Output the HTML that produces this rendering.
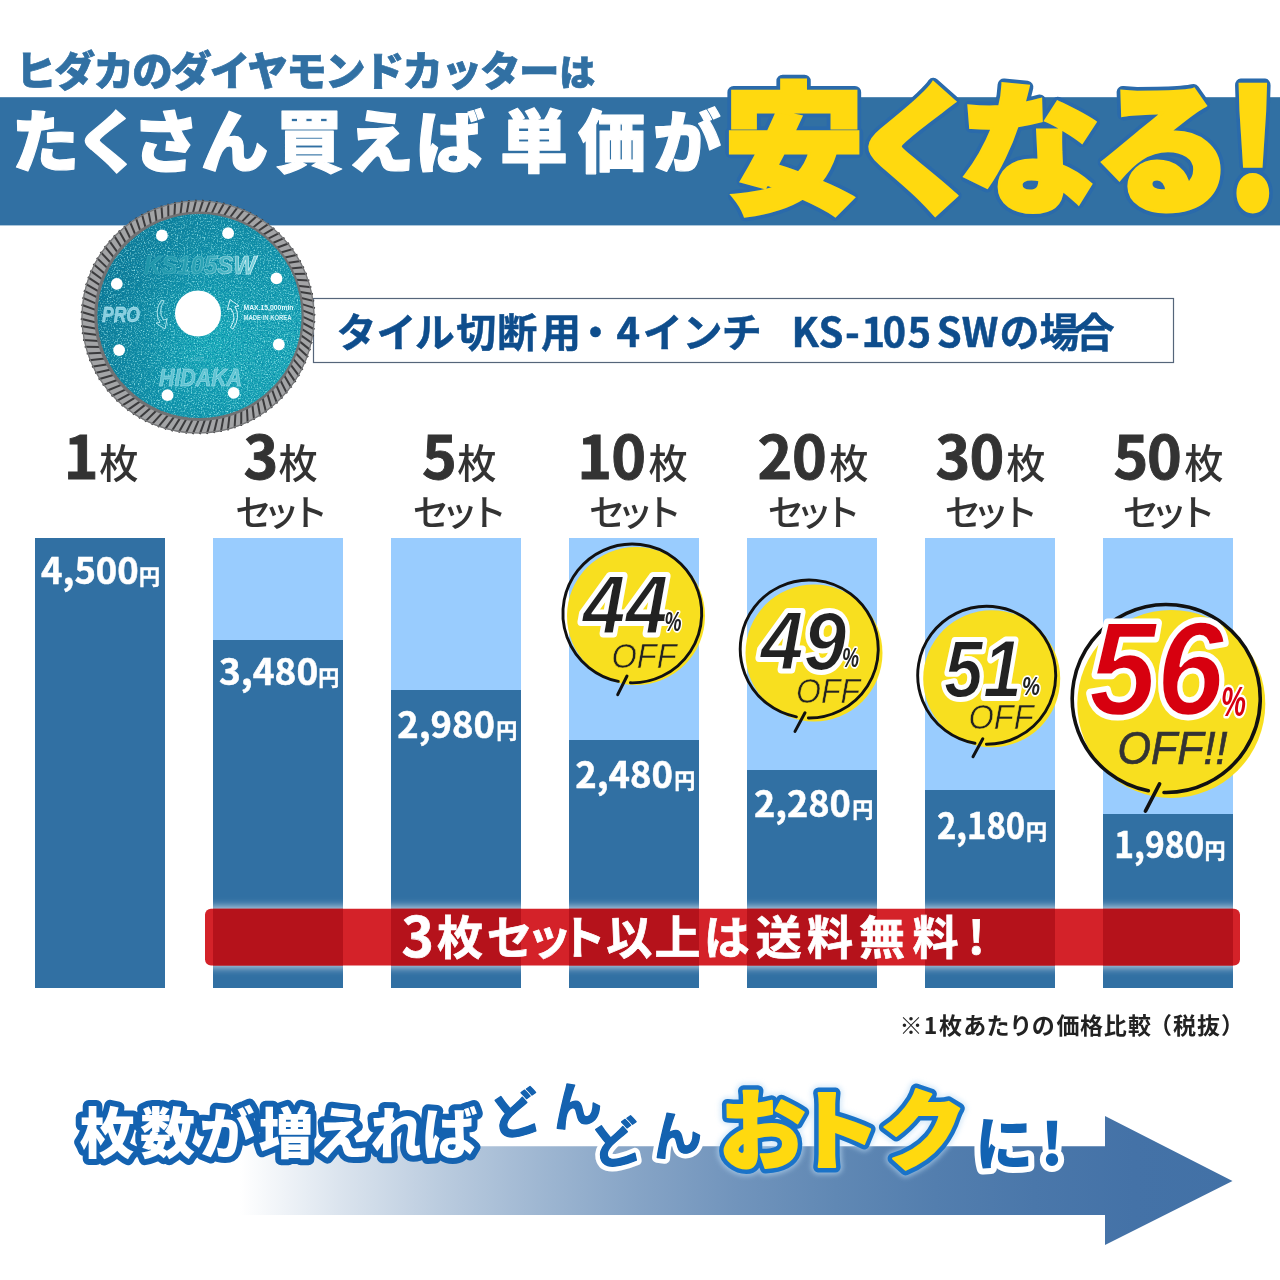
<!DOCTYPE html>
<html lang="ja"><head><meta charset="utf-8"><title>ヒダカのダイヤモンドカッター</title>
<style>
html,body{margin:0;padding:0;background:#fff;}
body{width:1280px;height:1280px;overflow:hidden;position:relative;font-family:"Liberation Sans", "Noto Sans CJK JP", sans-serif;}
svg{position:absolute;left:0;top:0;display:block;}
text{font-family:"Liberation Sans", "Noto Sans CJK JP", sans-serif;}
.n{font-family:"Noto Sans CJK JP", "Liberation Sans", sans-serif;}
.ol{paint-order:stroke fill;stroke-linejoin:round;stroke-linecap:round;}
</style></head><body>
<svg width="1280" height="1280" viewBox="0 0 1280 1280">

<defs>
<linearGradient id="arrowg" gradientUnits="userSpaceOnUse" x1="240" y1="0" x2="1233" y2="0">
<stop offset="0.0" stop-color="#ffffff"/><stop offset="0.1" stop-color="#dbe4ee"/><stop offset="0.2" stop-color="#bbccdf"/><stop offset="0.3" stop-color="#9fb7d2"/><stop offset="0.4" stop-color="#86a4c6"/><stop offset="0.5" stop-color="#7194bc"/><stop offset="0.6" stop-color="#6088b4"/><stop offset="0.7" stop-color="#537eae"/><stop offset="0.8" stop-color="#4a77aa"/><stop offset="0.9" stop-color="#4472a7"/><stop offset="1.0" stop-color="#4271a6"/>
</linearGradient>
<radialGradient id="tealg" gradientUnits="userSpaceOnUse" cx="215" cy="345" r="120">
<stop offset="0" stop-color="#1cb4bf"/><stop offset="0.5" stop-color="#169fb1"/><stop offset="1" stop-color="#138ea6"/>
</radialGradient>
<linearGradient id="teall" gradientUnits="userSpaceOnUse" x1="97" y1="280" x2="302" y2="350">
<stop offset="0" stop-color="#0b6585" stop-opacity="0.6"/><stop offset="0.5" stop-color="#0d6f8e" stop-opacity="0.08"/><stop offset="1" stop-color="#35d6d6" stop-opacity="0.3"/>
</linearGradient>
<linearGradient id="kst" x1="0" y1="0" x2="1" y2="0"><stop offset="0" stop-color="#1c93a8"/><stop offset="0.55" stop-color="#2ba3b5"/><stop offset="1" stop-color="#7fd3de"/></linearGradient>
<linearGradient id="kss" x1="0" y1="0" x2="1" y2="0"><stop offset="0" stop-color="#2f9fb2"/><stop offset="0.5" stop-color="#62c0cd"/><stop offset="1" stop-color="#e9fcff"/></linearGradient>
<filter id="glow" x="-5%" y="-40%" width="110%" height="180%"><feGaussianBlur stdDeviation="4"/></filter>
<filter id="tglow" x="-10%" y="-20%" width="120%" height="140%"><feGaussianBlur stdDeviation="2.5"/></filter>
<filter id="noise" x="0" y="0" width="100%" height="100%">
<feTurbulence type="fractalNoise" baseFrequency="0.85" numOctaves="2" seed="7" result="t"/>
<feColorMatrix in="t" type="matrix" values="0 0 0 0 0.0  0 0 0 0 0.22  0 0 0 0 0.38  2.6 0 0 0 -1.15" result="n"/>
<feComposite in="n" in2="SourceGraphic" operator="in"/>
</filter>
<filter id="noise2" x="0" y="0" width="100%" height="100%">
<feTurbulence type="fractalNoise" baseFrequency="0.7" numOctaves="2" seed="21" result="t"/>
<feColorMatrix in="t" type="matrix" values="0 0 0 0 0.45  0 0 0 0 0.95  0 0 0 0 0.95  0 2.2 0 0 -1.12" result="n"/>
<feComposite in="n" in2="SourceGraphic" operator="in"/>
</filter>
</defs>

<text x="15.8" y="86" font-size="40.5" font-weight="900" fill="#3170a3" stroke="#3170a3" stroke-width="0.7" letter-spacing="-1.7" class="n">ヒダカのダイヤモンドカッター<tspan font-size="36" dx="1.5">は</tspan></text>
<rect x="0" y="97.2" width="1280" height="128.2" fill="#3170a3"/>
<text x="11.5 74.25 131.9 200.6 275.15 346.25 416.85 500.1 577.95 653" y="167" font-size="68" font-weight="900" fill="#fff" stroke="#fff" stroke-width="1.2" class="n ol">たくさん買えば単価が</text>
<text x="724.0 848.0 959.5 1093.6" y="200.5" font-size="140" font-weight="900" fill="#ffd90f" stroke="#2a6aab" stroke-width="12.5" class="n ol">安くなる</text>
<g transform="translate(1226 208.5) scale(0.84 1)"><text x="0" y="0" font-size="161" font-weight="900" fill="#ffd90f" stroke="#2a6aab" stroke-width="13.5" class="n ol">!</text></g>
<text x="724.0 848.0 959.5 1093.6" y="200.5" font-size="140" font-weight="900" fill="#ffd90f" stroke="#ffd90f" stroke-width="5" class="n" style="paint-order:stroke fill;stroke-linejoin:miter;stroke-miterlimit:2.5">安くなる</text>
<g transform="translate(1226 208.5) scale(0.84 1)"><text x="0" y="0" font-size="161" font-weight="900" fill="#ffd90f" stroke="#ffd90f" stroke-width="5" class="n" style="paint-order:stroke fill;stroke-linejoin:miter;stroke-miterlimit:2.5">!</text></g>
<rect x="313.5" y="298.5" width="860" height="64" fill="#fff" stroke="#55657a" stroke-width="1.2"/>
<text x="336.5 376.5 414.8 456.2 497.3 540.9 575.6 616.5 642.8 682.5 721.8" y="346.5" font-size="40" font-weight="700" fill="#0e4d8c" stroke="#0e4d8c" stroke-width="0.5" class="n">タイル切断用・4インチ</text>
<text x="791.4 818.6 845.1 861.6 882.6 907.5 936.8 961.7 999.6 1039.5 1074.4" y="346.5" font-size="40" font-weight="700" fill="#0e4d8c" stroke="#0e4d8c" stroke-width="0.5" class="n">KS-105SWの場合</text>
<g id="disc">
<circle cx="198" cy="317" r="116.6" fill="#a3a4a6"/>
<line x1="302.0" y1="316.3" x2="315.1" y2="322.3" stroke="#3b3b3d" stroke-width="2"/>
<line x1="301.8" y1="322.5" x2="314.5" y2="329.3" stroke="#3b3b3d" stroke-width="2"/>
<line x1="301.2" y1="328.7" x2="313.6" y2="336.3" stroke="#3b3b3d" stroke-width="2"/>
<line x1="300.3" y1="334.9" x2="312.2" y2="343.3" stroke="#3b3b3d" stroke-width="2"/>
<line x1="299.0" y1="340.9" x2="310.4" y2="350.1" stroke="#3b3b3d" stroke-width="2"/>
<line x1="297.3" y1="346.9" x2="308.2" y2="356.9" stroke="#3b3b3d" stroke-width="2"/>
<line x1="295.3" y1="352.8" x2="305.6" y2="363.4" stroke="#3b3b3d" stroke-width="2"/>
<line x1="292.9" y1="358.6" x2="302.6" y2="369.9" stroke="#3b3b3d" stroke-width="2"/>
<line x1="290.2" y1="364.2" x2="299.2" y2="376.1" stroke="#3b3b3d" stroke-width="2"/>
<line x1="287.1" y1="369.6" x2="295.5" y2="382.1" stroke="#3b3b3d" stroke-width="2"/>
<line x1="283.8" y1="374.8" x2="291.4" y2="387.8" stroke="#3b3b3d" stroke-width="2"/>
<line x1="280.1" y1="379.8" x2="286.9" y2="393.4" stroke="#3b3b3d" stroke-width="2"/>
<line x1="276.1" y1="384.6" x2="282.1" y2="398.6" stroke="#3b3b3d" stroke-width="2"/>
<line x1="271.8" y1="389.1" x2="277.1" y2="403.5" stroke="#3b3b3d" stroke-width="2"/>
<line x1="267.3" y1="393.4" x2="271.7" y2="408.1" stroke="#3b3b3d" stroke-width="2"/>
<line x1="262.5" y1="397.4" x2="266.1" y2="412.4" stroke="#3b3b3d" stroke-width="2"/>
<line x1="257.5" y1="401.1" x2="260.2" y2="416.4" stroke="#3b3b3d" stroke-width="2"/>
<line x1="252.3" y1="404.4" x2="254.1" y2="419.9" stroke="#3b3b3d" stroke-width="2"/>
<line x1="246.9" y1="407.5" x2="247.7" y2="423.1" stroke="#3b3b3d" stroke-width="2"/>
<line x1="241.3" y1="410.2" x2="241.2" y2="425.9" stroke="#3b3b3d" stroke-width="2"/>
<line x1="235.5" y1="412.6" x2="234.6" y2="428.3" stroke="#3b3b3d" stroke-width="2"/>
<line x1="229.6" y1="414.6" x2="227.8" y2="430.3" stroke="#3b3b3d" stroke-width="2"/>
<line x1="223.6" y1="416.3" x2="220.9" y2="431.9" stroke="#3b3b3d" stroke-width="2"/>
<line x1="217.6" y1="417.6" x2="213.9" y2="433.1" stroke="#3b3b3d" stroke-width="2"/>
<line x1="211.4" y1="418.5" x2="206.9" y2="433.9" stroke="#3b3b3d" stroke-width="2"/>
<line x1="205.2" y1="419.1" x2="199.8" y2="434.2" stroke="#3b3b3d" stroke-width="2"/>
<line x1="199.0" y1="419.3" x2="192.7" y2="434.1" stroke="#3b3b3d" stroke-width="2"/>
<line x1="192.8" y1="419.1" x2="185.7" y2="433.5" stroke="#3b3b3d" stroke-width="2"/>
<line x1="186.6" y1="418.5" x2="178.7" y2="432.6" stroke="#3b3b3d" stroke-width="2"/>
<line x1="180.4" y1="417.6" x2="171.7" y2="431.2" stroke="#3b3b3d" stroke-width="2"/>
<line x1="174.4" y1="416.3" x2="164.9" y2="429.4" stroke="#3b3b3d" stroke-width="2"/>
<line x1="168.4" y1="414.6" x2="158.1" y2="427.2" stroke="#3b3b3d" stroke-width="2"/>
<line x1="162.5" y1="412.6" x2="151.6" y2="424.6" stroke="#3b3b3d" stroke-width="2"/>
<line x1="156.7" y1="410.2" x2="145.1" y2="421.6" stroke="#3b3b3d" stroke-width="2"/>
<line x1="151.1" y1="407.5" x2="138.9" y2="418.2" stroke="#3b3b3d" stroke-width="2"/>
<line x1="145.7" y1="404.4" x2="132.9" y2="414.5" stroke="#3b3b3d" stroke-width="2"/>
<line x1="140.5" y1="401.1" x2="127.2" y2="410.4" stroke="#3b3b3d" stroke-width="2"/>
<line x1="135.5" y1="397.4" x2="121.6" y2="405.9" stroke="#3b3b3d" stroke-width="2"/>
<line x1="130.7" y1="393.4" x2="116.4" y2="401.1" stroke="#3b3b3d" stroke-width="2"/>
<line x1="126.2" y1="389.1" x2="111.5" y2="396.1" stroke="#3b3b3d" stroke-width="2"/>
<line x1="121.9" y1="384.6" x2="106.9" y2="390.7" stroke="#3b3b3d" stroke-width="2"/>
<line x1="117.9" y1="379.8" x2="102.6" y2="385.1" stroke="#3b3b3d" stroke-width="2"/>
<line x1="114.2" y1="374.8" x2="98.6" y2="379.2" stroke="#3b3b3d" stroke-width="2"/>
<line x1="110.9" y1="369.6" x2="95.1" y2="373.1" stroke="#3b3b3d" stroke-width="2"/>
<line x1="107.8" y1="364.2" x2="91.9" y2="366.7" stroke="#3b3b3d" stroke-width="2"/>
<line x1="105.1" y1="358.6" x2="89.1" y2="360.2" stroke="#3b3b3d" stroke-width="2"/>
<line x1="102.7" y1="352.8" x2="86.7" y2="353.6" stroke="#3b3b3d" stroke-width="2"/>
<line x1="100.7" y1="346.9" x2="84.7" y2="346.8" stroke="#3b3b3d" stroke-width="2"/>
<line x1="99.0" y1="340.9" x2="83.1" y2="339.9" stroke="#3b3b3d" stroke-width="2"/>
<line x1="97.7" y1="334.9" x2="81.9" y2="332.9" stroke="#3b3b3d" stroke-width="2"/>
<line x1="96.8" y1="328.7" x2="81.1" y2="325.9" stroke="#3b3b3d" stroke-width="2"/>
<line x1="96.2" y1="322.5" x2="80.8" y2="318.8" stroke="#3b3b3d" stroke-width="2"/>
<line x1="96.0" y1="316.3" x2="80.9" y2="311.7" stroke="#3b3b3d" stroke-width="2"/>
<line x1="96.2" y1="310.1" x2="81.5" y2="304.7" stroke="#3b3b3d" stroke-width="2"/>
<line x1="96.8" y1="303.9" x2="82.4" y2="297.7" stroke="#3b3b3d" stroke-width="2"/>
<line x1="97.7" y1="297.7" x2="83.8" y2="290.7" stroke="#3b3b3d" stroke-width="2"/>
<line x1="99.0" y1="291.7" x2="85.6" y2="283.9" stroke="#3b3b3d" stroke-width="2"/>
<line x1="100.7" y1="285.7" x2="87.8" y2="277.1" stroke="#3b3b3d" stroke-width="2"/>
<line x1="102.7" y1="279.8" x2="90.4" y2="270.6" stroke="#3b3b3d" stroke-width="2"/>
<line x1="105.1" y1="274.0" x2="93.4" y2="264.1" stroke="#3b3b3d" stroke-width="2"/>
<line x1="107.8" y1="268.4" x2="96.8" y2="257.9" stroke="#3b3b3d" stroke-width="2"/>
<line x1="110.9" y1="263.0" x2="100.5" y2="251.9" stroke="#3b3b3d" stroke-width="2"/>
<line x1="114.2" y1="257.8" x2="104.6" y2="246.2" stroke="#3b3b3d" stroke-width="2"/>
<line x1="117.9" y1="252.8" x2="109.1" y2="240.6" stroke="#3b3b3d" stroke-width="2"/>
<line x1="121.9" y1="248.0" x2="113.9" y2="235.4" stroke="#3b3b3d" stroke-width="2"/>
<line x1="126.2" y1="243.5" x2="118.9" y2="230.5" stroke="#3b3b3d" stroke-width="2"/>
<line x1="130.7" y1="239.2" x2="124.3" y2="225.9" stroke="#3b3b3d" stroke-width="2"/>
<line x1="135.5" y1="235.2" x2="129.9" y2="221.6" stroke="#3b3b3d" stroke-width="2"/>
<line x1="140.5" y1="231.5" x2="135.8" y2="217.6" stroke="#3b3b3d" stroke-width="2"/>
<line x1="145.7" y1="228.2" x2="141.9" y2="214.1" stroke="#3b3b3d" stroke-width="2"/>
<line x1="151.1" y1="225.1" x2="148.3" y2="210.9" stroke="#3b3b3d" stroke-width="2"/>
<line x1="156.7" y1="222.4" x2="154.8" y2="208.1" stroke="#3b3b3d" stroke-width="2"/>
<line x1="162.5" y1="220.0" x2="161.4" y2="205.7" stroke="#3b3b3d" stroke-width="2"/>
<line x1="168.4" y1="218.0" x2="168.2" y2="203.7" stroke="#3b3b3d" stroke-width="2"/>
<line x1="174.4" y1="216.3" x2="175.1" y2="202.1" stroke="#3b3b3d" stroke-width="2"/>
<line x1="180.4" y1="215.0" x2="182.1" y2="200.9" stroke="#3b3b3d" stroke-width="2"/>
<line x1="186.6" y1="214.1" x2="189.1" y2="200.1" stroke="#3b3b3d" stroke-width="2"/>
<line x1="192.8" y1="213.5" x2="196.2" y2="199.8" stroke="#3b3b3d" stroke-width="2"/>
<line x1="199.0" y1="213.3" x2="203.3" y2="199.9" stroke="#3b3b3d" stroke-width="2"/>
<line x1="205.2" y1="213.5" x2="210.3" y2="200.5" stroke="#3b3b3d" stroke-width="2"/>
<line x1="211.4" y1="214.1" x2="217.3" y2="201.4" stroke="#3b3b3d" stroke-width="2"/>
<line x1="217.6" y1="215.0" x2="224.3" y2="202.8" stroke="#3b3b3d" stroke-width="2"/>
<line x1="223.6" y1="216.3" x2="231.1" y2="204.6" stroke="#3b3b3d" stroke-width="2"/>
<line x1="229.6" y1="218.0" x2="237.9" y2="206.8" stroke="#3b3b3d" stroke-width="2"/>
<line x1="235.5" y1="220.0" x2="244.4" y2="209.4" stroke="#3b3b3d" stroke-width="2"/>
<line x1="241.3" y1="222.4" x2="250.9" y2="212.4" stroke="#3b3b3d" stroke-width="2"/>
<line x1="246.9" y1="225.1" x2="257.1" y2="215.8" stroke="#3b3b3d" stroke-width="2"/>
<line x1="252.3" y1="228.2" x2="263.1" y2="219.5" stroke="#3b3b3d" stroke-width="2"/>
<line x1="257.5" y1="231.5" x2="268.8" y2="223.6" stroke="#3b3b3d" stroke-width="2"/>
<line x1="262.5" y1="235.2" x2="274.4" y2="228.1" stroke="#3b3b3d" stroke-width="2"/>
<line x1="267.3" y1="239.2" x2="279.6" y2="232.9" stroke="#3b3b3d" stroke-width="2"/>
<line x1="271.8" y1="243.5" x2="284.5" y2="237.9" stroke="#3b3b3d" stroke-width="2"/>
<line x1="276.1" y1="248.0" x2="289.1" y2="243.3" stroke="#3b3b3d" stroke-width="2"/>
<line x1="280.1" y1="252.8" x2="293.4" y2="248.9" stroke="#3b3b3d" stroke-width="2"/>
<line x1="283.8" y1="257.8" x2="297.4" y2="254.8" stroke="#3b3b3d" stroke-width="2"/>
<line x1="287.1" y1="263.0" x2="300.9" y2="260.9" stroke="#3b3b3d" stroke-width="2"/>
<line x1="290.2" y1="268.4" x2="304.1" y2="267.3" stroke="#3b3b3d" stroke-width="2"/>
<line x1="292.9" y1="274.0" x2="306.9" y2="273.8" stroke="#3b3b3d" stroke-width="2"/>
<line x1="295.3" y1="279.8" x2="309.3" y2="280.4" stroke="#3b3b3d" stroke-width="2"/>
<line x1="297.3" y1="285.7" x2="311.3" y2="287.2" stroke="#3b3b3d" stroke-width="2"/>
<line x1="299.0" y1="291.7" x2="312.9" y2="294.1" stroke="#3b3b3d" stroke-width="2"/>
<line x1="300.3" y1="297.7" x2="314.1" y2="301.1" stroke="#3b3b3d" stroke-width="2"/>
<line x1="301.2" y1="303.9" x2="314.9" y2="308.1" stroke="#3b3b3d" stroke-width="2"/>
<line x1="301.8" y1="310.1" x2="315.2" y2="315.2" stroke="#3b3b3d" stroke-width="2"/>
<circle cx="198" cy="317" r="116" fill="none" stroke="#77787a" stroke-width="1.2"/>
<circle cx="199" cy="316.2" r="104.8" fill="#707173"/>
<circle cx="199.5" cy="316" r="102" fill="url(#tealg)"/>
<circle cx="199.5" cy="316" r="102" fill="url(#teall)"/>
<circle cx="199.5" cy="316" r="102" fill="#fff" filter="url(#noise)"/>
<circle cx="199.5" cy="316" r="102" fill="#fff" filter="url(#noise2)"/>
<circle cx="198" cy="313.4" r="23" fill="#fff"/>
<circle cx="278.8" cy="344.5" r="5.9" fill="#fff"/>
<circle cx="233.7" cy="392.9" r="5.9" fill="#fff"/>
<circle cx="167.5" cy="395.2" r="5.9" fill="#fff"/>
<circle cx="119.1" cy="350.1" r="5.9" fill="#fff"/>
<circle cx="116.8" cy="283.9" r="5.9" fill="#fff"/>
<circle cx="161.9" cy="235.5" r="5.9" fill="#fff"/>
<circle cx="228.1" cy="233.2" r="5.9" fill="#fff"/>
<circle cx="276.5" cy="278.3" r="5.9" fill="#fff"/>
<text x="144" y="274" font-size="26" font-weight="700" font-style="italic" fill="url(#kst)" stroke="url(#kss)" stroke-width="0.7" textLength="112" lengthAdjust="spacingAndGlyphs">KS105SW</text>
<text x="102" y="322" font-size="21.5" font-weight="700" font-style="italic" fill="#86cfe0" stroke="#b9e6f0" stroke-width="0.4" textLength="38" lengthAdjust="spacingAndGlyphs">PRO</text>
<text x="159" y="386" font-size="23" font-weight="700" font-style="italic" fill="#5fc3d2" stroke="#a5e2ea" stroke-width="0.5" textLength="83" lengthAdjust="spacingAndGlyphs">HIDAKA</text>
<text x="243.5" y="310.2" font-size="7" font-weight="700" fill="#e4fbff" textLength="50" lengthAdjust="spacingAndGlyphs">MAX.15,000min</text>
<text x="243.5" y="320.4" font-size="7" font-weight="700" fill="#d5f5fa" textLength="48" lengthAdjust="spacingAndGlyphs">MADE IN KOREA</text>
<text x="191" y="361" font-size="5.5" font-weight="700" fill="#4fb9c9">105S</text>
<path d="M161.5 300 q-8 12 -1.5 22.5 l-4 0.5 l9 6 l2 -10 l-3.5 1 q-6 -9 0.5 -19z" fill="none" stroke="#bdeef4" stroke-width="0.9" stroke-linejoin="round"/>
<path d="M233 329 q8 -12 2 -22.5 l4 -0.5 l-9 -6.5 l-2.5 10 l3.5 -1 q6 9 -0.5 19z" fill="none" stroke="#e4fbff" stroke-width="0.9" stroke-linejoin="round"/>
</g>
<rect x="35" y="538" width="130" height="450" fill="#99ccfe"/>
<rect x="35" y="538" width="130" height="450" fill="#3170a3"/>
<text y="478.7" fill="#333" stroke="#333" class="n"><tspan x="63.7" font-size="59" font-weight="700" stroke-width="0.9">1</tspan><tspan x="99.2" dy="-1.2" font-size="39.3" font-weight="500" stroke-width="0">枚</tspan></text>
<text y="584.4" fill="#fff" stroke="#fff" stroke-width="0.5" class="n" font-weight="700"><tspan x="41.1" font-size="35.8" textLength="97.7" lengthAdjust="spacingAndGlyphs">4,500</tspan><tspan x="138.9" font-size="21">円</tspan></text>
<rect x="213" y="538" width="130" height="450" fill="#99ccfe"/>
<rect x="213" y="640" width="130" height="348" fill="#3170a3"/>
<text y="478.7" fill="#333" stroke="#333" class="n"><tspan x="243.5" font-size="59" font-weight="700" stroke-width="0.9">3</tspan><tspan x="278.5" dy="-1.2" font-size="39.3" font-weight="500" stroke-width="0">枚</tspan></text>
<text x="235.2 263.2 291.7" y="526" fill="#333" font-size="36.5" font-weight="500" class="n">セット</text>
<text y="685.0" fill="#fff" stroke="#fff" stroke-width="0.5" class="n" font-weight="700"><tspan x="219.0" font-size="35.8" textLength="99.2" lengthAdjust="spacingAndGlyphs">3,480</tspan><tspan x="318.3" font-size="21">円</tspan></text>
<rect x="391" y="538" width="130" height="450" fill="#99ccfe"/>
<rect x="391" y="690" width="130" height="298" fill="#3170a3"/>
<text y="478.7" fill="#333" stroke="#333" class="n"><tspan x="421.9" font-size="59" font-weight="700" stroke-width="0.9">5</tspan><tspan x="457.3" dy="-1.2" font-size="39.3" font-weight="500" stroke-width="0">枚</tspan></text>
<text x="412.7 441.5 470.5" y="526" fill="#333" font-size="36.5" font-weight="500" class="n">セット</text>
<text y="737.5" fill="#fff" stroke="#fff" stroke-width="0.5" class="n" font-weight="700"><tspan x="397.2" font-size="35.8" textLength="97.7" lengthAdjust="spacingAndGlyphs">2,980</tspan><tspan x="496.3" font-size="21">円</tspan></text>
<rect x="569" y="538" width="130" height="450" fill="#99ccfe"/>
<rect x="569" y="740" width="130" height="248" fill="#3170a3"/>
<text y="478.7" fill="#333" stroke="#333" class="n"><tspan x="577.2 611.3" font-size="59" font-weight="700" stroke-width="0.9">10</tspan><tspan x="648.5" dy="-1.2" font-size="39.3" font-weight="500" stroke-width="0">枚</tspan></text>
<text x="588.9 616.9 645.5" y="526" fill="#333" font-size="36.5" font-weight="500" class="n">セット</text>
<text y="787.5" fill="#fff" stroke="#fff" stroke-width="0.5" class="n" font-weight="700"><tspan x="575.2" font-size="35.8" textLength="97.7" lengthAdjust="spacingAndGlyphs">2,480</tspan><tspan x="674.3" font-size="21">円</tspan></text>
<rect x="747" y="538" width="130" height="450" fill="#99ccfe"/>
<rect x="747" y="770" width="130" height="218" fill="#3170a3"/>
<text y="478.7" fill="#333" stroke="#333" class="n"><tspan x="757.4 792.0" font-size="59" font-weight="700" stroke-width="0.9">20</tspan><tspan x="829.2" dy="-1.2" font-size="39.3" font-weight="500" stroke-width="0">枚</tspan></text>
<text x="767.7 795.7 824.2" y="526" fill="#333" font-size="36.5" font-weight="500" class="n">セット</text>
<text y="817.2" fill="#fff" stroke="#fff" stroke-width="0.5" class="n" font-weight="700"><tspan x="753.9" font-size="35.8" textLength="97.0" lengthAdjust="spacingAndGlyphs">2,280</tspan><tspan x="852.3" font-size="21">円</tspan></text>
<rect x="925" y="538" width="130" height="450" fill="#99ccfe"/>
<rect x="925" y="790" width="130" height="198" fill="#3170a3"/>
<text y="478.7" fill="#333" stroke="#333" class="n"><tspan x="935.4 969.5" font-size="59" font-weight="700" stroke-width="0.9">30</tspan><tspan x="1006.3" dy="-1.2" font-size="39.3" font-weight="500" stroke-width="0">枚</tspan></text>
<text x="944.7 972.7 1001.7" y="526" fill="#333" font-size="36.5" font-weight="500" class="n">セット</text>
<text y="839.4" fill="#fff" stroke="#fff" stroke-width="0.5" class="n" font-weight="700"><tspan x="936.9" font-size="35.8" textLength="88.3" lengthAdjust="spacingAndGlyphs">2,180</tspan><tspan x="1025.9" font-size="21">円</tspan></text>
<rect x="1103" y="538" width="130" height="450" fill="#99ccfe"/>
<rect x="1103" y="814" width="130" height="174" fill="#3170a3"/>
<text y="478.7" fill="#333" stroke="#333" class="n"><tspan x="1113.5 1147.0" font-size="59" font-weight="700" stroke-width="0.9">50</tspan><tspan x="1184.2" dy="-1.2" font-size="39.3" font-weight="500" stroke-width="0">枚</tspan></text>
<text x="1122.7 1150.7 1179.2" y="526" fill="#333" font-size="36.5" font-weight="500" class="n">セット</text>
<text y="857.5" fill="#fff" stroke="#fff" stroke-width="0.5" class="n" font-weight="700"><tspan x="1114.3" font-size="35.8" textLength="90.0" lengthAdjust="spacingAndGlyphs">1,980</tspan><tspan x="1204.6" font-size="21">円</tspan></text>
<circle cx="636.0" cy="616.0" r="69.0" fill="#f8df1f"/>
<path d="M618.3 681.4 A69.4 69.4 0 1 1 630.4 682.8" fill="none" stroke="#111" stroke-width="2.9" stroke-linecap="round"/>
<line x1="627.0" y1="676.0" x2="617.7" y2="694.7" stroke="#111" stroke-width="3.0" stroke-linecap="round"/>
<text x="582.5" y="634.4" font-size="83" font-weight="700" font-style="italic" fill="#fff" stroke="#fff" stroke-width="8" class="ol" textLength="86" lengthAdjust="spacingAndGlyphs">44</text>
<text x="582.5" y="634.4" font-size="83" font-weight="700" font-style="italic" fill="#222" stroke="#fff" stroke-width="1.8" stroke-linejoin="round" textLength="86" lengthAdjust="spacingAndGlyphs">44</text>
<text x="664.5" y="631.0" font-size="27" font-style="italic" font-weight="700" fill="#222" stroke="#fff" stroke-width="3.5" class="ol" textLength="17" lengthAdjust="spacingAndGlyphs">%</text>
<text x="611.5" y="667.5" font-size="35" font-style="italic" fill="#222" stroke="#f8df1f" stroke-width="0.55" textLength="65" lengthAdjust="spacingAndGlyphs">OFF</text>
<circle cx="814.0" cy="653.0" r="68.5" fill="#f8df1f"/>
<path d="M796.4 716.8 A69.0 69.0 0 1 1 808.4 718.0" fill="none" stroke="#111" stroke-width="2.9" stroke-linecap="round"/>
<line x1="805.0" y1="712.8" x2="795.0" y2="731.4" stroke="#111" stroke-width="3.0" stroke-linecap="round"/>
<text x="760.5" y="669.6" font-size="83" font-weight="700" font-style="italic" fill="#fff" stroke="#fff" stroke-width="8" class="ol" textLength="86" lengthAdjust="spacingAndGlyphs">49</text>
<text x="760.5" y="669.6" font-size="83" font-weight="700" font-style="italic" fill="#222" stroke="#fff" stroke-width="1.8" stroke-linejoin="round" textLength="86" lengthAdjust="spacingAndGlyphs">49</text>
<text x="842.0" y="667.0" font-size="27" font-style="italic" font-weight="700" fill="#222" stroke="#fff" stroke-width="3.5" class="ol" textLength="17" lengthAdjust="spacingAndGlyphs">%</text>
<text x="796.0" y="702.8" font-size="35" font-style="italic" fill="#222" stroke="#f8df1f" stroke-width="0.55" textLength="64" lengthAdjust="spacingAndGlyphs">OFF</text>
<circle cx="991.7" cy="678.7" r="68.5" fill="#f8df1f"/>
<path d="M975.0 743.3 A69.0 69.0 0 1 1 986.4 744.3" fill="none" stroke="#111" stroke-width="2.9" stroke-linecap="round"/>
<line x1="982.8" y1="738.7" x2="973.0" y2="756.7" stroke="#111" stroke-width="3.0" stroke-linecap="round"/>
<text x="944.0" y="696.8" font-size="82" font-weight="700" font-style="italic" fill="#fff" stroke="#fff" stroke-width="8" class="ol" textLength="78" lengthAdjust="spacingAndGlyphs">51</text>
<text x="944.0" y="696.8" font-size="82" font-weight="700" font-style="italic" fill="#222" stroke="#fff" stroke-width="1.8" stroke-linejoin="round" textLength="78" lengthAdjust="spacingAndGlyphs">51</text>
<text x="1022.0" y="695.0" font-size="26" font-style="italic" font-weight="700" fill="#222" stroke="#fff" stroke-width="3.5" class="ol" textLength="18" lengthAdjust="spacingAndGlyphs">%</text>
<text x="968.5" y="729.4" font-size="35" font-style="italic" fill="#222" stroke="#f8df1f" stroke-width="0.55" textLength="65" lengthAdjust="spacingAndGlyphs">OFF</text>
<circle cx="1171.3" cy="704.0" r="94.0" fill="#f8df1f"/>
<path d="M1148.3 790.8 A94.0 94.0 0 1 1 1164.0 792.5" fill="none" stroke="#111" stroke-width="3.6" stroke-linecap="round"/>
<line x1="1159.5" y1="784.0" x2="1145.5" y2="811.0" stroke="#111" stroke-width="3.8" stroke-linecap="round"/>
<text x="1089.0" y="715.2" font-size="134" font-weight="700" font-style="italic" fill="#fff" stroke="#fff" stroke-width="9" class="ol" textLength="135" lengthAdjust="spacingAndGlyphs">56</text>
<text x="1089.0" y="715.2" font-size="134" font-weight="700" font-style="italic" fill="#d7000f" stroke="#fff" stroke-width="2.4" stroke-linejoin="round" textLength="135" lengthAdjust="spacingAndGlyphs">56</text>
<text x="1221.0" y="715.5" font-size="42" font-style="italic" font-weight="700" fill="#d7000f" stroke="#fff" stroke-width="5" class="ol" textLength="25" lengthAdjust="spacingAndGlyphs">%</text>
<text x="1117.5" y="763.6" font-size="46.5" font-style="italic" fill="#333" stroke="#333" stroke-width="0.7" textLength="110" lengthAdjust="spacingAndGlyphs">OFF!!</text>
<rect x="203" y="907" width="1039" height="60" rx="8" fill="#fff" opacity="0.75" filter="url(#glow)"/>
<rect x="205" y="908.7" width="1035" height="56.8" rx="6" fill="#d42229"/>
<clipPath id="rib"><rect x="205" y="908.7" width="1035" height="56.8" rx="6"/></clipPath>
<g clip-path="url(#rib)">
<rect x="213" y="908" width="130" height="58" fill="#b5121b"/>
<rect x="391" y="908" width="130" height="58" fill="#b5121b"/>
<rect x="569" y="908" width="130" height="58" fill="#b5121b"/>
<rect x="747" y="908" width="130" height="58" fill="#b5121b"/>
<rect x="925" y="908" width="130" height="58" fill="#b5121b"/>
<rect x="1103" y="908" width="130" height="58" fill="#b5121b"/>
</g>
<text y="954.4" fill="#fff" stroke="#fff" stroke-width="0.7" font-weight="700" class="n"><tspan x="401.5" dy="2.2" font-size="55">3</tspan><tspan x="437.1 486.7 526.3 560.0 606.2 654.4 703.7 755.8 807.0 858.9 912.6 967.7" dy="-2.2" font-size="46">枚セット以上は送料無料!</tspan></text>
<text y="1034.3" fill="#222" font-size="23" class="n"><tspan x="899.6" font-weight="400">※</tspan><tspan x="923.7 938.9 963.3 986.6 1009.2 1031.8 1056.5 1080.1 1103.8 1127.9 1148.9 1173.0 1196.9 1221.0" font-weight="700">1枚あたりの価格比較（税抜）</tspan></text>
<path d="M240 1146.3 H1105 V1116 L1232.5 1181 L1105 1245 V1215 H240 Z" fill="url(#arrowg)"/>
<text x="79.5 139.9 199.8 258.6 314.4 370.3 422.6" y="1153.3" font-size="55" font-weight="900" fill="#fff" stroke="#1462b0" stroke-width="12" class="n ol">枚数が増えれば</text>
<text x="494.8 554.6 595.3 654.6" y="1138.8 1128.8 1167.9 1157.9" rotate="-13" font-size="51" font-weight="700" fill="#1462b0" stroke="#fff" stroke-width="10.5" class="n ol">どんどん</text>
<text x="494.8 554.6 595.3 654.6" y="1138.8 1128.8 1167.9 1157.9" rotate="-13" font-size="51" font-weight="700" fill="#1462b0" stroke="#1462b0" stroke-width="1.3" class="n ol">どんどん</text>
<text x="718.8 793.6 879.7" y="1162.5" font-size="87" font-weight="900" fill="#bcdcf5" stroke="#bcdcf5" stroke-width="15" class="n ol" filter="url(#tglow)" opacity="0.6">おトク</text>
<text x="718.8 793.6 879.7" y="1162.5" font-size="87" font-weight="900" fill="#ffd90f" stroke="#1a73c8" stroke-width="11" class="n ol">おトク</text>
<text x="718.8 793.6 879.7" y="1162.5" font-size="87" font-weight="900" fill="#ffd90f" stroke="#ffd90f" stroke-width="2" class="n ol">おトク</text>
<text x="975.2 1040.5" y="1164.6" font-size="58" font-weight="900" fill="#1263b3" stroke="#fff" stroke-width="12" class="n ol">に!</text>
</svg></body></html>
